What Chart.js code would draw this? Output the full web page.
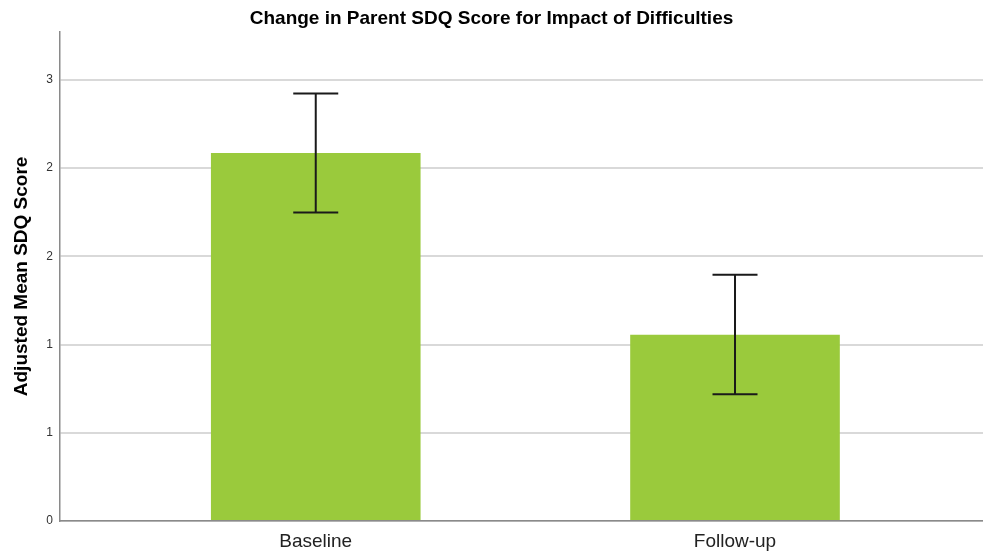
<!DOCTYPE html>
<html>
<head>
<meta charset="utf-8">
<title>Parent SDQ – Impact of Difficulties</title>
<script src="https://cdn.jsdelivr.net/npm/chart.js@4.4.1/dist/chart.umd.min.js"></script>
<style>
  html, body { margin: 0; padding: 0; background: #fff; }
  #wrap { width: 983px; height: 556px; }
</style>
</head>
<body>
<div id="wrap"><canvas id="sdqChart" width="983" height="556"></canvas></div>
<script>
// datos del gráfico
const categories = ["Baseline", "Follow-up"];
const meanScores = [2.085, 1.055];
const ciLower = [1.748, 0.718];
const ciUpper = [2.422, 1.395];
const yTickValues = [0, 0.5, 1, 1.5, 2, 2.5];
const yTickLabels = ["0", "1", "1", "2", "2", "3"];

const FONT = "'Liberation Sans', Arial, Helvetica, sans-serif";

// barras de error (línea vertical + topes)
const errorBars = {
  id: "errorBars",
  afterDatasetsDraw(chart) {
    const ctx = chart.ctx;
    const y = chart.scales.y;
    const meta = chart.getDatasetMeta(0);
    ctx.save();
    ctx.strokeStyle = "#1a1a1a";
    ctx.lineWidth = 2;
    meta.data.forEach((bar, i) => {
      const x = bar.x;
      const top = y.getPixelForValue(ciUpper[i]);
      const bottom = y.getPixelForValue(ciLower[i]);
      const cap = 22.5;
      ctx.beginPath();
      ctx.moveTo(x, top);
      ctx.lineTo(x, bottom);
      ctx.moveTo(x - cap, top);
      ctx.lineTo(x + cap, top);
      ctx.moveTo(x - cap, bottom);
      ctx.lineTo(x + cap, bottom);
      ctx.stroke();
    });
    ctx.restore();
  }
};

const ctx = document.getElementById("sdqChart").getContext("2d");

new Chart(ctx, {
  type: "bar",
  data: {
    datasets: [{
      label: "Adjusted Mean SDQ Score",
      data: categories.map((c, i) => ({ x: i, y: meanScores[i] })),
      backgroundColor: "#9aca3c",
      borderWidth: 0,
      categoryPercentage: 1,
      barPercentage: 0.5
    }]
  },
  options: {
    responsive: false,
    animation: false,
    layout: { padding: { left: 0, right: 0, top: 0, bottom: 0 } },
    plugins: {
      legend: { display: false },
      tooltip: { enabled: false },
      title: {
        display: true,
        text: "Change in Parent SDQ Score for Impact of Difficulties",
        color: "#000",
        font: { family: FONT, size: 19, weight: "bold" },
        padding: { top: 7, bottom: 2 }
      }
    },
    scales: {
      x: {
        type: "linear",
        min: -0.61,
        max: 1.5915,
        offset: false,
        afterBuildTicks: (scale) => {
          scale.ticks = categories.map((c, i) => ({ value: i }));
        },
        afterFit: (scale) => { scale.height = 35; },
        ticks: {
          color: "#222",
          font: { family: FONT, size: 19 },
          padding: 9,
          autoSkip: false,
          maxRotation: 0,
          callback: (v) => categories[v]
        },
        grid: { display: false, drawTicks: false },
        border: { display: true, color: "#8a8a8a", width: 1.5 }
      },
      y: {
        min: 0,
        max: 2.772,
        afterBuildTicks: (scale) => {
          scale.ticks = yTickValues.map((v) => ({ value: v }));
        },
        afterFit: (scale) => { scale.width = 60; },
        ticks: {
          color: "#333",
          font: { family: FONT, size: 12 },
          padding: 7,
          callback: (v, idx) => yTickLabels[idx]
        },
        grid: { color: "#d9d9d9", lineWidth: 2, drawTicks: false },
        border: { display: true, color: "#8a8a8a", width: 1.5 },
        title: {
          display: true,
          text: "Adjusted Mean SDQ Score",
          color: "#000",
          font: { family: FONT, size: 19, weight: "bold" },
          padding: { top: 10, bottom: 0 }
        }
      }
    }
  },
  plugins: [errorBars]
});
</script>
</body>
</html>
